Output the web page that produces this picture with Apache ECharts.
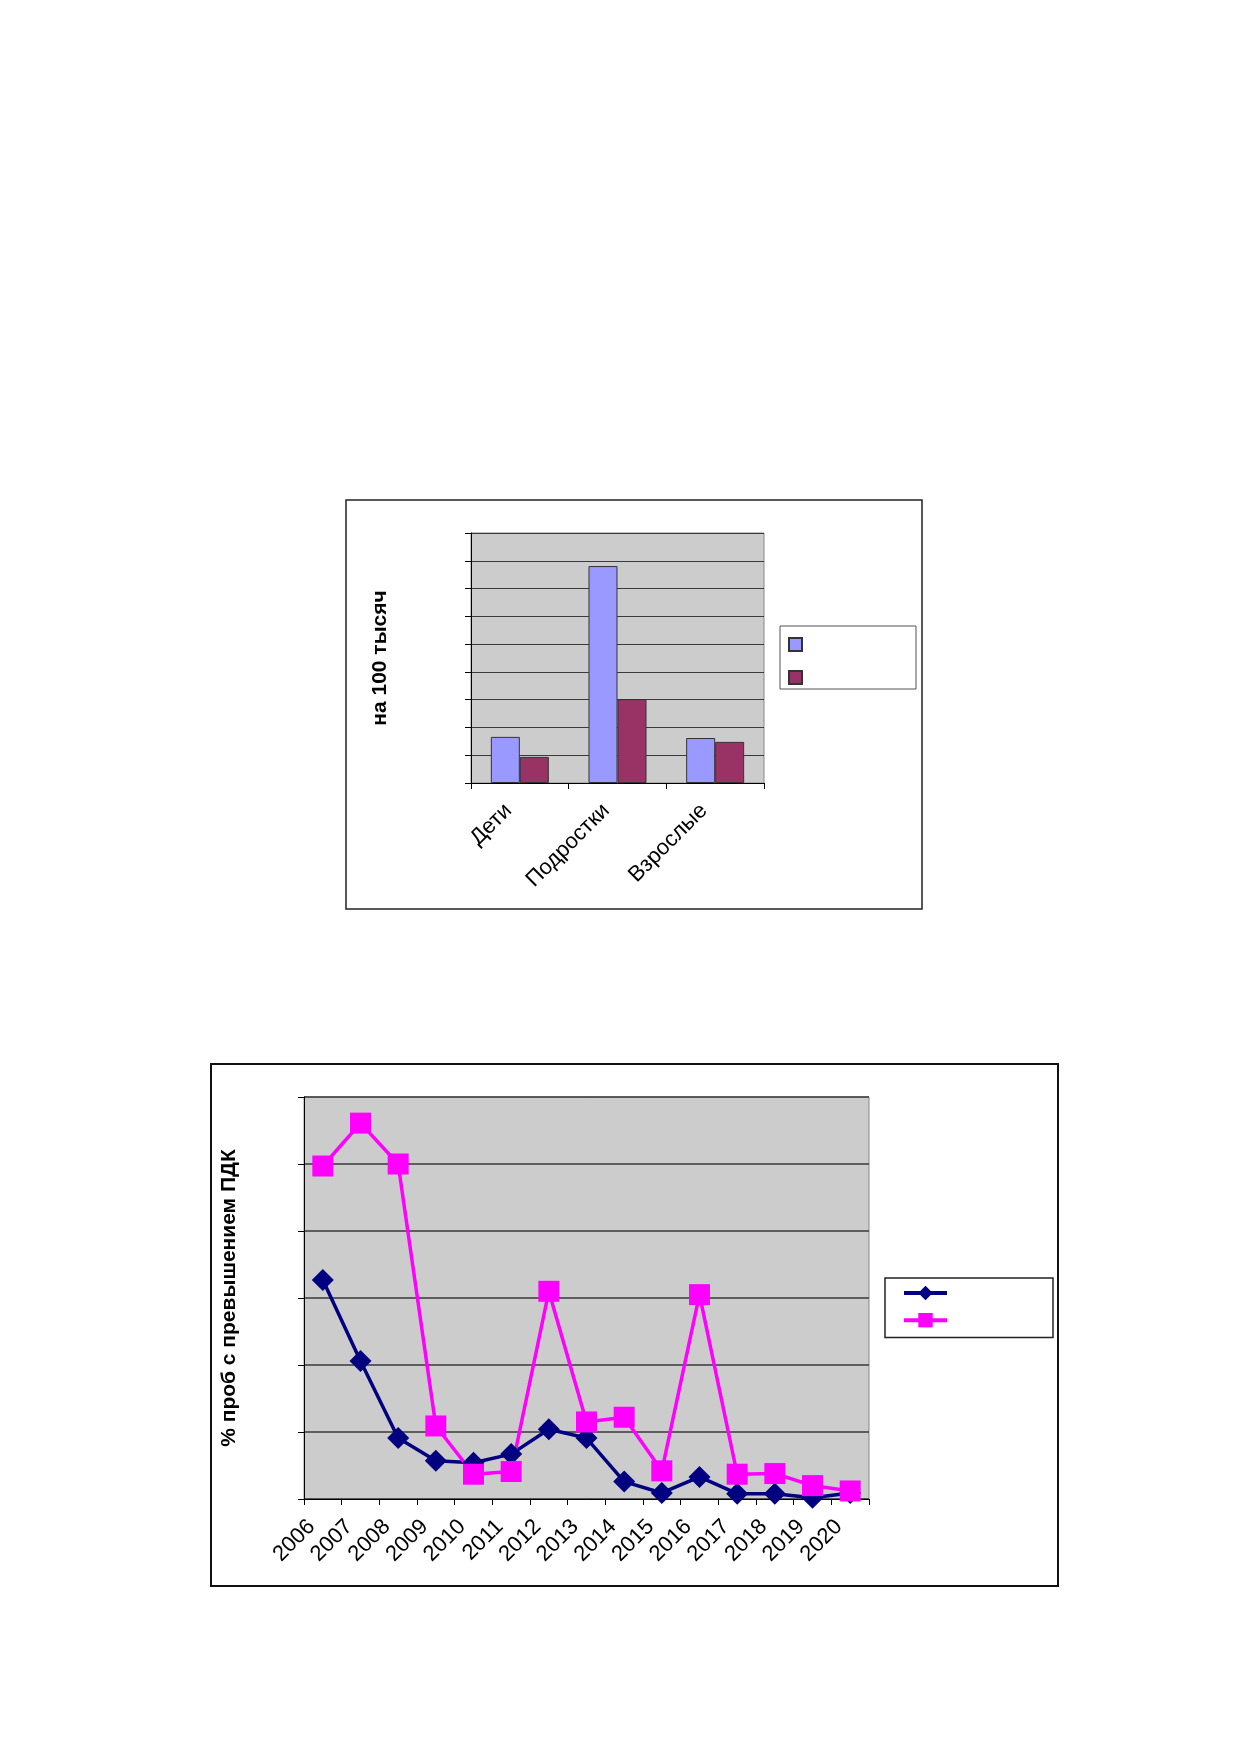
<!DOCTYPE html>
<html>
<head>
<meta charset="utf-8">
<script src="https://cdn.jsdelivr.net/npm/echarts@6/dist/echarts.min.js"></script>
<style>
    html, body { margin: 0; padding: 0; background: #fff; }
    #page { width: 1239px; height: 1752px; }
</style>
</head>
<body>
<div id="page"></div>
<script>
// bar chart (на 100 тысяч)
const groupNames = ['Дети', 'Подростки', 'Взрослые'];
const barSeries1 = [1.66, 7.81, 1.62];
const barSeries2 = [0.94, 3.02, 1.48];

// line chart (% проб с превышением ПДК)
const years = ['2006', '2007', '2008', '2009', '2010', '2011', '2012', '2013',
               '2014', '2015', '2016', '2017', '2018', '2019', '2020'];
const navyValues = [3.27, 2.06, 0.91, 0.57, 0.54, 0.67, 1.04, 0.91, 0.26, 0.09, 0.33, 0.08, 0.08, 0.02, 0.09];
const pinkValues = [4.97, 5.61, 5.0, 1.09, 0.37, 0.41, 3.10, 1.15, 1.22, 0.42, 3.05, 0.37, 0.38, 0.20, 0.12];

const fontName = "'Liberation Sans', Arial, sans-serif";

const chart = echarts.init(document.getElementById('page'), null, { renderer: 'canvas' });

function valueAxis(gridIndex, max, title, gap, lineW) {
    return {
        type: 'value',
        gridIndex: gridIndex,
        min: 0,
        max: max,
        interval: 1,
        name: title,
        nameLocation: 'middle',
        nameRotate: 90,
        nameGap: gap,
        nameTextStyle: { fontFamily: fontName, fontSize: 21, fontWeight: 'bold', color: '#000' },
        axisLine: { show: true, lineStyle: { color: '#000', width: 1 } },
        axisTick: { show: true, length: 6, lineStyle: { color: '#000' } },
        axisLabel: { show: false },
        splitLine: { show: true, lineStyle: { color: '#3a3a3a', width: lineW } }
    };
}

function categoryAxis(gridIndex, labels) {
    return {
        type: 'category',
        gridIndex: gridIndex,
        data: labels,
        boundaryGap: true,
        axisLine: { show: true, lineStyle: { color: '#000', width: 1 } },
        axisTick: { show: true, length: 6, interval: 0, lineStyle: { color: '#000' } },
        axisLabel: {
            interval: 0,
            rotate: 45,
            margin: 13,
            padding: [0, 16, 0, 0],   // pull the text back along its baseline
            fontFamily: fontName,
            fontSize: 22,
            color: '#000'
        },
        splitLine: { show: false }
    };
}

const option = {
    animation: false,
    grid: [
        { left: 471, top: 533, width: 293, height: 250, show: true,
          backgroundColor: '#cccccc', borderColor: '#888', borderWidth: 1 },
        { left: 304, top: 1097, width: 565, height: 402, show: true,
          backgroundColor: '#cccccc', borderColor: '#888', borderWidth: 1 }
    ],
    xAxis: [
        categoryAxis(0, groupNames),
        categoryAxis(1, years)
    ],
    yAxis: [
        valueAxis(0, 9, 'на 100 тысяч', 80, 1),
        valueAxis(1, 6, '% проб с превышением ПДК', 64, 1.5)
    ],
    legend: [
        {
            data: ['Ряд 1', 'Ряд 2'],
            orient: 'vertical',
            left: 780,
            top: 626,
            icon: 'rect',
            itemWidth: 13,
            itemHeight: 13,
            itemGap: 18,
            padding: [11, 113, 4, 8],
            backgroundColor: '#fff',
            borderColor: '#555',
            borderWidth: 1,
            formatter: () => ''
        },
        {
            data: ['Серия 1', 'Серия 2'],
            orient: 'vertical',
            left: 885,
            top: 1278,
            itemWidth: 43,
            itemHeight: 18,
            itemGap: 11,
            padding: [6, 104, 10, 17],
            backgroundColor: '#fff',
            borderColor: '#222',
            borderWidth: 1.5,
            lineStyle: { width: 4 },
            formatter: () => ''
        }
    ],
    series: [
        {
            name: 'Ряд 1',
            type: 'bar',
            xAxisIndex: 0,
            yAxisIndex: 0,
            data: barSeries1,
            barWidth: 29,
            barGap: '0%',
            itemStyle: { color: '#9999ff', borderColor: '#333', borderWidth: 1 }
        },
        {
            name: 'Ряд 2',
            type: 'bar',
            xAxisIndex: 0,
            yAxisIndex: 0,
            data: barSeries2,
            barWidth: 29,
            barGap: '0%',
            itemStyle: { color: '#993366', borderColor: '#333', borderWidth: 1 }
        },
        {
            name: 'Серия 1',
            type: 'line',
            xAxisIndex: 1,
            yAxisIndex: 1,
            data: navyValues,
            symbol: 'diamond',
            symbolSize: 22,
            lineStyle: { color: '#000080', width: 3.5 },
            itemStyle: { color: '#000080' }
        },
        {
            name: 'Серия 2',
            type: 'line',
            xAxisIndex: 1,
            yAxisIndex: 1,
            data: pinkValues,
            symbol: 'rect',
            symbolSize: 21,
            lineStyle: { color: '#ff00ff', width: 3.5 },
            itemStyle: { color: '#ff00ff' }
        }
    ],
    // outer chart frames
    graphic: [
        { type: 'rect', shape: { x: 346, y: 500, width: 576, height: 409 },
          style: { fill: 'none', stroke: '#222', lineWidth: 1.5 } },
        { type: 'rect', shape: { x: 211, y: 1064, width: 847, height: 522 },
          style: { fill: 'none', stroke: '#111', lineWidth: 2 } }
    ]
};

chart.setOption(option);
</script>
</body>
</html>
